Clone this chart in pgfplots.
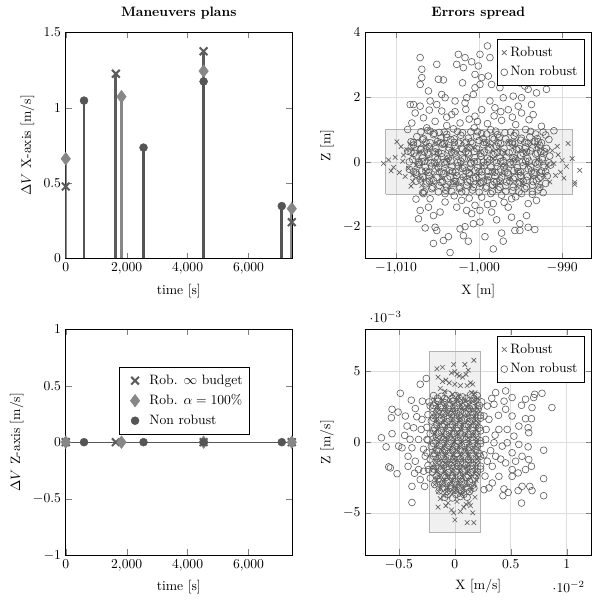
\documentclass[border=0pt]{standalone}
\usepackage{pgfplots}
\pgfplotsset{compat=1.18}
\usepgfplotslibrary{groupplots}
\definecolor{crossc}{RGB}{92,92,92}
\definecolor{diamc}{RGB}{135,135,135}
\definecolor{circc}{RGB}{85,85,85}
\definecolor{scat}{RGB}{92,92,92}
\begin{document}
\begin{tikzpicture}
\begin{groupplot}[group style={group size=2 by 2, horizontal sep=54pt, vertical sep=52pt},
  width=166pt, height=166pt, scale only axis, legend cell align=left,
  legend style={row sep=2pt, inner ysep=3.5pt}]

%%%%%%%%%%%% top left
\nextgroupplot[title={\textbf{Maneuvers plans}}, xlabel={time [s]}, ylabel={$\Delta V$ X-axis [m/s]},
  xmin=0, xmax=7420, ymin=0, ymax=1.5, ytick={0,0.5,1,1.5}, xtick={0,2000,4000,6000}]
\addplot[ycomb, crossc, line width=2pt, mark=x, mark size=4pt, mark options={line width=1.5pt}]
  coordinates {(0,0.477) (1645,1.225) (4526,1.374) (7420,0.24)};
\addplot[ycomb, diamc, line width=2pt, mark=diamond*, mark size=4.6pt, mark options={line width=0.4pt}]
  coordinates {(0,0.661) (1830,1.073) (4526,1.243) (7420,0.33)};
\addplot[ycomb, circc, line width=2pt, mark=*, mark size=2.9pt, mark options={line width=0.4pt}]
  coordinates {(600,1.047) (2553,0.735) (4526,1.174) (7092,0.347)};

%%%%%%%%%%%% top right
\nextgroupplot[title={\textbf{Errors spread}}, xlabel={X [m]}, ylabel={Z [m]},
  xmin=-1013.7, xmax=-986.5, ymin=-2.98, ymax=4, xtick={-1010,-1000,-990}, ytick={-2,0,2,4},
  grid=major, grid style={black!13}, legend pos=north east]
\addplot[draw=black!30, fill=black, fill opacity=0.06, forget plot]
  coordinates {(-1011.25,-1) (-988.75,-1) (-988.75,1) (-1011.25,1) (-1011.25,-1)};
\addplot[only marks, mark=x, mark size=2.4pt, scat, mark options={line width=0.45pt}] coordinates {
(-1011.5,-0.05) (-1010.9,0.06) (-1010.6,-0.28) (-1010.1,0.14) (-1009.9,0.62) (-1009.4,0.47) (-1009.6,-0.33) (-1010.3,-0.17) (-1009.1,0.21) (-1008.9,-0.45) (-1009.2,0.02) (-1008.7,0.38) (-1008.5,-0.2) (-1008.3,0.55) (-1008.0,-0.6)
(-989.3,0.57) (-988.8,0.1) (-987.9,-0.26) (-988.5,-0.63) (-988.5,-0.70) (-989.5,-0.14) (-989.8,-0.50) (-990.2,-0.32) (-990.5,0.22) (-991.0,-0.05) (-990.8,-0.42) (-991.2,0.35) (-990.6,0.48) (-991.5,-0.62) (-990.0,0.05)
(-1006.5,0.5) (-1004.0,0.52) (-1001.3,0.48) (-998.5,0.51) (-995.8,0.49) (-993.1,0.5)
(-1007.3,0.3) (-1005.1,0.31) (-1002.6,0.28) (-999.9,0.32) (-997.0,0.29) (-994.4,0.3) (-992.0,0.31)
(-1006.2,0.1) (-1003.7,0.12) (-1001.1,0.09) (-998.3,0.1) (-995.6,0.11) (-993.0,0.08)
(-1007.6,-0.1) (-1005.0,-0.09) (-1002.3,-0.12) (-999.6,-0.1) (-996.9,-0.11) (-994.2,-0.08) (-991.8,-0.1)
(-1006.4,-0.3) (-1003.8,-0.31) (-1001.0,-0.28) (-998.2,-0.3) (-995.5,-0.32) (-992.9,-0.29)
(-1007.0,-0.5) (-1004.5,-0.51) (-1001.8,-0.49) (-999.0,-0.5) (-996.3,-0.52) (-993.7,-0.48)
(-1005.6,-0.65) (-1002.9,-0.66) (-1000.2,-0.64) (-997.5,-0.65) (-994.8,-0.66)
(-1005.2,0.6) (-1002.0,0.62) (-999.0,0.58) (-996.5,0.61) (-993.8,0.6)
(-1008.2,-0.75) (-1006.9,-0.73) (-1003.6,-0.76) (-1000.9,-0.74) (-998.1,-0.77) (-995.5,-0.74) (-992.6,-0.75)
(-1008.0,0.4) (-1006.0,0.41) (-1003.2,0.39) (-1000.5,0.42) (-997.7,0.4) (-995.0,0.38) (-992.6,0.41)
(-1008.0,-0.4) (-1005.6,-0.41) (-1002.9,-0.39) (-1000.2,-0.42) (-997.4,-0.4) (-994.8,-0.38) (-992.2,-0.41)
};
\addlegendentry{Robust}
\addplot[only marks, mark=o, mark size=2.5pt, scat, mark options={line width=0.45pt}] coordinates {
(-999.0,3.58) (-1007.1,3.22) (-1002.5,3.32) (-1001.7,3.22) (-999.9,3.32) (-998.7,3.22) (-1005.1,3.01) (-1002.7,3.01) (-1000.9,3.09) (-1006.9,2.86) (-1001.9,2.91) (-1000.1,2.96) (-1006.9,2.6) (-1004.9,2.55) (-1004.3,2.53) (-1007.1,2.39) (-1002.0,2.44) (-1000.5,2.7) (-999.7,2.6) (-999.9,2.39) (-998.9,2.65) (-998.5,2.39) (-997.5,2.29) (-996.9,2.5) (-996.1,2.65) (-995.1,2.44) (-994.5,2.34) (-994.1,2.24) (-993.1,2.13) (-991.9,2.24) (-995.9,2.03) (-1000.5,2.29) (-1000.7,2.08) (-1006.1,2.19) (-1004.5,2.08) (-1004.1,1.98) (-1002.9,1.88) (-1001.7,1.82) (-1001.5,1.98) (-998.7,1.88) (-997.1,1.98) (-994.9,1.98) (-1008.3,1.77) (-1007.9,1.77) (-1007.1,1.72) (-1005.9,1.88) (-1005.1,1.77) (-1007.7,1.51) (-1006.7,1.36) (-1004.5,1.57) (-1003.3,1.46) (-999.7,1.61) (-998.1,1.67) (-996.5,1.61) (-994.9,1.51) (-993.7,1.77) (-993.5,1.46) (-1000.5,1.41) (-1008.1,1.2) (-1002.3,1.2)
(-1005.3,1.25) (-1003.9,1.12) (-1001.2,1.32) (-999.0,1.18) (-997.3,1.28) (-995.6,1.15) (-994.0,1.3) (-992.5,1.1) (-1006.3,1.05) (-998.2,1.42) (-996.0,1.38)
(-1002.9,1.55) (-1001.6,1.62) (-1000.2,1.25) (-997.4,1.55) (-995.3,1.72) (-1003.9,1.38) (-1006.0,1.6) (-1008.6,1.0) (-1000.6,1.05)
(-1003.0,-1.05) (-1001.2,-1.12) (-998.6,-0.98) (-995.6,-1.08) (-993.6,-1.0) (-1007.6,-1.15) (-1002.7,-1.4) (-1006.8,-0.95) (-992.3,-0.95) (-999.0,-1.32) (-997.0,-1.25)
(-1003.5,-2.8) (-998.3,-2.69) (-1005.5,-2.52) (-1004.3,-2.43) (-1003.7,-2.31) (-1001.3,-2.45) (-1001.9,-2.28) (-999.3,-2.31) (-997.1,-2.45) (-997.3,-2.2) (-995.7,-2.12) (-995.1,-2.12) (-993.3,-2.09) (-1006.5,-2.04) (-1005.3,-2.02) (-1005.1,-2.12) (-1002.3,-2.07) (-1001.7,-2.0) (-1000.7,-1.91) (-999.9,-1.86) (-994.1,-2.02) (-1007.3,-1.76) (-1005.5,-1.66) (-1004.7,-1.55) (-1001.5,-1.5) (-1000.9,-1.6) (-999.9,-1.5) (-998.5,-1.55) (-997.9,-1.79) (-996.1,-1.71) (-995.1,-1.91) (-994.3,-1.66) (-1007.1,-1.5) (-1006.1,-1.4) (-1004.1,-1.24) (-1002.1,-1.19) (-1000.5,-1.34) (-998.3,-1.29) (-996.5,-1.4) (-994.1,-1.29) (-993.1,-1.19) (-1005.9,-1.14) (-999.7,-1.09) (-997.3,-1.03) (-996.1,-1.14) (-994.9,-0.98) (-1006.7,-0.98) (-1004.1,-0.98) (-1002.1,-0.93)
(-1006.2,0.97) (-1004.8,0.91) (-1003.1,1.02) (-1001.0,0.93) (-998.6,0.99) (-996.9,0.90) (-994.4,1.00) (-992.3,0.92) (-991.0,0.96)
(-1007.5,0.78) (-1005.5,0.84) (-1003.9,0.76) (-1002.2,0.82) (-1000.3,0.79) (-999.1,0.86) (-997.6,0.75) (-995.8,0.81) (-993.9,0.77) (-992.0,0.83)
(-1008.2,0.62) (-1006.8,0.68) (-1005.0,0.63) (-1003.4,0.69) (-1001.6,0.61) (-1000.0,0.66) (-998.2,0.70) (-996.4,0.60) (-995.0,0.67) (-993.3,0.63) (-991.6,0.69)
(-1007.9,0.52) (-1006.0,0.47) (-1004.4,0.54) (-1002.9,0.49) (-1001.2,0.45) (-999.5,0.53) (-997.9,0.48) (-996.0,0.55) (-994.4,0.46) (-992.7,0.51)
(-1008.6,0.33) (-1007.0,0.38) (-1005.3,0.31) (-1003.7,0.36) (-1002.0,0.39) (-1000.6,0.32) (-998.9,0.37) (-997.2,0.30) (-995.5,0.38) (-993.8,0.34) (-992.1,0.31)
(-1007.6,0.18) (-1006.1,0.23) (-1004.5,0.16) (-1002.8,0.21) (-1001.3,0.24) (-999.8,0.17) (-998.3,0.22) (-996.7,0.15) (-995.0,0.20) (-993.2,0.24) (-991.5,0.18)
(-1008.0,0.07) (-1006.6,0.02) (-1005.0,0.08) (-1003.4,0.03) (-1001.8,0.09) (-1000.2,0.01) (-998.7,0.06) (-997.1,0.04) (-995.6,0.09) (-994.0,0.02) (-992.4,0.07)
(-1007.3,-0.08) (-1005.7,-0.13) (-1004.1,-0.07) (-1002.5,-0.12) (-1001.0,-0.06) (-999.4,-0.11) (-997.8,-0.14) (-996.2,-0.08) (-994.7,-0.12) (-993.0,-0.07) (-991.4,-0.10)
(-1008.4,-0.23) (-1006.9,-0.28) (-1005.3,-0.22) (-1003.6,-0.27) (-1002.0,-0.21) (-1000.5,-0.26) (-998.9,-0.29) (-997.4,-0.23) (-995.8,-0.27) (-994.1,-0.22) (-992.5,-0.28)
(-1007.6,-0.38) (-1006.0,-0.43) (-1004.3,-0.37) (-1002.7,-0.42) (-1001.2,-0.36) (-999.7,-0.41) (-998.1,-0.44) (-996.5,-0.38) (-995.0,-0.42) (-993.4,-0.37) (-991.8,-0.43)
(-1007.1,-0.53) (-1005.5,-0.58) (-1003.8,-0.52) (-1002.2,-0.57) (-1000.7,-0.51) (-999.0,-0.56) (-997.5,-0.59) (-995.9,-0.53) (-994.3,-0.57) (-992.8,-0.52)
(-1006.4,-0.68) (-1004.8,-0.73) (-1003.1,-0.67) (-1001.5,-0.72) (-999.9,-0.66) (-998.4,-0.71) (-996.8,-0.74) (-995.2,-0.68) (-993.6,-0.72) (-992.0,-0.67)
(-1005.7,-0.83) (-1004.0,-0.88) (-1002.4,-0.82) (-1000.8,-0.87) (-999.2,-0.81) (-997.7,-0.86) (-996.0,-0.89) (-994.5,-0.83) (-992.9,-0.87)
(-1005.4,0.88) (-1003.9,0.85) (-1002.0,0.90) (-999.7,0.87) (-997.8,0.84) (-995.6,0.89) (-993.2,0.86)
(-1006.7,0.72) (-1004.6,0.74) (-1003.0,0.71) (-1001.3,0.73) (-999.5,0.72) (-998.4,0.74) (-996.8,0.71) (-994.9,0.73) (-993.0,0.72)
(-1007.4,0.57) (-1005.9,0.59) (-1004.2,0.56) (-1002.5,0.58) (-1000.8,0.57) (-999.1,0.59) (-997.4,0.56) (-995.7,0.58) (-994.1,0.57) (-992.5,0.59)
(-1007.0,0.42) (-1005.2,0.41) (-1003.6,0.43) (-1002.1,0.42) (-1000.3,0.41) (-998.7,0.43) (-997.0,0.42) (-995.2,0.41) (-993.6,0.43) (-991.9,0.42)
(-1007.8,0.27) (-1006.2,0.28) (-1004.5,0.26) (-1002.9,0.27) (-1001.3,0.28) (-999.8,0.26) (-998.1,0.27) (-996.4,0.28) (-994.7,0.26) (-993.0,0.27)
(-1006.8,0.12) (-1005.3,0.13) (-1003.7,0.11) (-1002.0,0.12) (-1000.5,0.13) (-999.0,0.11) (-997.5,0.12) (-995.8,0.13) (-994.2,0.11) (-992.4,0.12)
(-1007.2,-0.02) (-1005.8,-0.03) (-1004.2,-0.01) (-1002.6,-0.02) (-1001.0,-0.03) (-999.5,-0.01) (-997.9,-0.02) (-996.3,-0.03) (-994.8,-0.01) (-993.2,-0.02) (-991.6,-0.03)
(-1006.5,-0.17) (-1004.9,-0.18) (-1003.3,-0.16) (-1001.8,-0.17) (-1000.2,-0.18) (-998.6,-0.16) (-997.0,-0.17) (-995.4,-0.18) (-993.8,-0.16) (-992.2,-0.17)
(-1007.6,-0.32) (-1006.1,-0.33) (-1004.5,-0.31) (-1002.8,-0.32) (-1001.2,-0.33) (-999.7,-0.31) (-998.1,-0.32) (-996.6,-0.33) (-995.0,-0.31) (-993.3,-0.32)
(-1006.8,-0.47) (-1005.1,-0.48) (-1003.5,-0.46) (-1001.9,-0.47) (-1000.4,-0.48) (-998.9,-0.46) (-997.3,-0.47) (-995.7,-0.48) (-994.2,-0.46) (-992.6,-0.47)
(-1006.3,-0.62) (-1004.6,-0.63) (-1003.0,-0.61) (-1001.4,-0.62) (-999.8,-0.63) (-998.2,-0.61) (-996.7,-0.62) (-995.1,-0.63) (-993.5,-0.61)
(-1005.6,-0.78) (-1003.9,-0.77) (-1002.3,-0.79) (-1000.7,-0.78) (-999.1,-0.77) (-997.5,-0.79) (-995.9,-0.78) (-994.3,-0.77) (-992.7,-0.79)
(-1007.0,0.93) (-1005.9,0.95) (-1004.2,0.92) (-1002.6,0.94) (-1000.2,0.93) (-998.0,0.95) (-996.2,0.92) (-993.8,0.94)
(-1007.9,0.6) (-1006.4,0.61) (-1004.6,0.59) (-1003.0,0.6) (-1001.0,0.62) (-999.4,0.6) (-997.7,0.59) (-996.0,0.61) (-994.5,0.6) (-992.9,0.62)
(-1008.2,0.3) (-1006.6,0.31) (-1004.9,0.29) (-1003.3,0.3) (-1001.6,0.32) (-999.4,0.3) (-997.8,0.29) (-996.0,0.31) (-994.3,0.3) (-992.6,0.32)
(-1008.4,0.0) (-1006.9,0.01) (-1005.4,-0.01) (-1003.9,0.0) (-1002.2,0.02) (-1000.6,0.0) (-999.0,-0.01) (-997.4,0.01) (-995.9,0.0) (-994.4,0.02) (-992.8,0.0)
(-1007.9,-0.3) (-1006.4,-0.29) (-1004.8,-0.31) (-1003.2,-0.3) (-1001.6,-0.28) (-1000.0,-0.3) (-998.4,-0.31) (-996.9,-0.29) (-995.3,-0.3) (-993.7,-0.28) (-992.0,-0.3)
(-1007.6,-0.6) (-1006.0,-0.59) (-1004.4,-0.61) (-1002.8,-0.6) (-1001.1,-0.58) (-999.5,-0.6) (-997.9,-0.61) (-996.3,-0.59) (-994.7,-0.6) (-993.1,-0.58)
(-1006.6,-0.92) (-1004.9,-0.93) (-1003.3,-0.91) (-1001.6,-0.92) (-1000.0,-0.94) (-998.4,-0.92) (-996.8,-0.91) (-995.2,-0.93) (-993.6,-0.92)
};
\addlegendentry{Non robust}

%%%%%%%%%%%% bottom left
\nextgroupplot[xlabel={time [s]}, ylabel={$\Delta V$ Z-axis [m/s]},
  xmin=0, xmax=7420, ymin=-1, ymax=1, ytick={-1,-0.5,0,0.5,1}, xtick={0,2000,4000,6000},
  legend style={at={(0.236,0.832)}, anchor=north west},
  legend image code/.code={\path[draw=none, fill=none] (0cm,0cm) -- (0.6cm,0cm); \draw plot coordinates {(0.3cm,0cm)};}]
\addplot[circc, line width=0.8pt, forget plot] coordinates {(0,0) (7420,0)};
\addplot[only marks, crossc, mark=x, mark size=4pt, mark options={line width=1.5pt}]
  coordinates {(0,0) (1645,0) (4526,0) (7420,0)};
\addlegendentry{Rob. $\infty$ budget}
\addplot[only marks, diamc, mark=diamond*, mark size=4.6pt, mark options={line width=0.4pt}]
  coordinates {(0,0) (1830,0) (4526,0) (7420,0)};
\addlegendentry{Rob. $\alpha = 100\%$}
\addplot[only marks, circc, mark=*, mark size=2.9pt, mark options={line width=0.4pt}]
  coordinates {(600,0) (2553,0) (4526,0) (7092,0)};
\addlegendentry{Non robust}

%%%%%%%%%%%% bottom right
\nextgroupplot[xlabel={X [m/s]}, ylabel={Z [m/s]},
  xmin=-0.008, xmax=0.0122, ymin=-0.008, ymax=0.008, xtick={-0.005,0,0.005,0.01}, ytick={-0.005,0,0.005},
  grid=major, grid style={black!13}, legend pos=north east]
\addplot[draw=black!30, fill=black, fill opacity=0.06, forget plot]
  coordinates {(-2.3e-3,-6.4e-3) (2.3e-3,-6.4e-3) (2.3e-3,6.4e-3) (-2.3e-3,6.4e-3) (-2.3e-3,-6.4e-3)};
\addplot[only marks, mark=x, mark size=2.4pt, scat, mark options={line width=0.45pt}] coordinates {
(-1.6e-3,5.2e-3) (-1.1e-3,5.3e-3) (-0.1e-3,5.5e-3) (0.9e-3,5.5e-3) (1.7e-3,5.8e-3) (-1.5e-3,4.6e-3) (-1.1e-3,4.3e-3) (-0.8e-3,4.4e-3) (-0.3e-3,4.9e-3) (0.0e-3,5.0e-3) (0.2e-3,4.8e-3) (0.4e-3,4.7e-3) (0.7e-3,4.6e-3) (1.0e-3,4.8e-3) (1.2e-3,5.1e-3) (1.4e-3,4.2e-3) (1.6e-3,4.1e-3) (1.1e-3,4.0e-3) (0.5e-3,4.0e-3) (0.0e-3,4.1e-3) (-0.5e-3,4.2e-3) (-1.3e-3,3.8e-3) (-0.9e-3,3.6e-3) (1.8e-3,3.5e-3) (1.5e-3,3.5e-3) (2.0e-3,3.1e-3) (0.3e-3,3.3e-3) (-0.2e-3,3.4e-3)
(-1.5e-3,-4.6e-3) (-0.8e-3,-4.5e-3) (1.0e-3,-4.4e-3) (1.3e-3,-4.3e-3) (-0.3e-3,-4.8e-3) (0.0e-3,-5.5e-3) (1.1e-3,-5.7e-3) (1.7e-3,-5.7e-3) (1.6e-3,-5.0e-3) (0.5e-3,-4.9e-3) (-1.3e-3,-4.0e-3) (-0.1e-3,-5.0e-3) (0.8e-3,-4.6e-3) (1.4e-3,-4.5e-3) (0.2e-3,-4.2e-3) (-0.6e-3,-4.3e-3) (-1.0e-3,-3.8e-3) (1.8e-3,-3.9e-3) (0.6e-3,-3.7e-3)
(-1.8e-3,3.0e-3) (-1.1e-3,3.0e-3) (-0.4e-3,3.0e-3) (0.3e-3,3.0e-3) (1.0e-3,3.0e-3) (1.7e-3,3.0e-3)
(-1.45e-3,2.4e-3) (-0.75e-3,2.4e-3) (-0.05e-3,2.4e-3) (0.65e-3,2.4e-3) (1.35e-3,2.4e-3) (2.0e-3,2.4e-3)
(-1.8e-3,1.8e-3) (-1.1e-3,1.8e-3) (-0.4e-3,1.8e-3) (0.3e-3,1.8e-3) (1.0e-3,1.8e-3) (1.7e-3,1.8e-3)
(-1.45e-3,1.2e-3) (-0.75e-3,1.2e-3) (-0.05e-3,1.2e-3) (0.65e-3,1.2e-3) (1.35e-3,1.2e-3) (2.0e-3,1.2e-3)
(-1.8e-3,0.6e-3) (-1.1e-3,0.6e-3) (-0.4e-3,0.6e-3) (0.3e-3,0.6e-3) (1.0e-3,0.6e-3) (1.7e-3,0.6e-3)
(-1.45e-3,0.0e-3) (-0.75e-3,0.0e-3) (-0.05e-3,0.0e-3) (0.65e-3,0.0e-3) (1.35e-3,0.0e-3) (2.0e-3,0.0e-3)
(-1.8e-3,-0.6e-3) (-1.1e-3,-0.6e-3) (-0.4e-3,-0.6e-3) (0.3e-3,-0.6e-3) (1.0e-3,-0.6e-3) (1.7e-3,-0.6e-3)
(-1.45e-3,-1.2e-3) (-0.75e-3,-1.2e-3) (-0.05e-3,-1.2e-3) (0.65e-3,-1.2e-3) (1.35e-3,-1.2e-3) (2.0e-3,-1.2e-3)
(-1.8e-3,-1.8e-3) (-1.1e-3,-1.8e-3) (-0.4e-3,-1.8e-3) (0.3e-3,-1.8e-3) (1.0e-3,-1.8e-3) (1.7e-3,-1.8e-3)
(-1.45e-3,-2.4e-3) (-0.75e-3,-2.4e-3) (-0.05e-3,-2.4e-3) (0.65e-3,-2.4e-3) (1.35e-3,-2.4e-3) (2.0e-3,-2.4e-3)
(-1.8e-3,-3.0e-3) (-1.1e-3,-3.0e-3) (-0.4e-3,-3.0e-3) (0.3e-3,-3.0e-3) (1.0e-3,-3.0e-3) (1.7e-3,-3.0e-3)
(-1.45e-3,-3.5e-3) (-0.75e-3,-3.5e-3) (-0.05e-3,-3.5e-3) (0.65e-3,-3.5e-3) (1.35e-3,-3.5e-3)
(-1.6e-3,2.7e-3) (-0.9e-3,2.7e-3) (-0.2e-3,2.7e-3) (0.5e-3,2.7e-3) (1.2e-3,2.7e-3) (1.9e-3,2.7e-3)
(-1.6e-3,2.1e-3) (-0.9e-3,2.1e-3) (-0.2e-3,2.1e-3) (0.5e-3,2.1e-3) (1.2e-3,2.1e-3) (1.9e-3,2.1e-3)
(-1.6e-3,1.5e-3) (-0.9e-3,1.5e-3) (-0.2e-3,1.5e-3) (0.5e-3,1.5e-3) (1.2e-3,1.5e-3) (1.9e-3,1.5e-3)
(-1.6e-3,0.9e-3) (-0.9e-3,0.9e-3) (-0.2e-3,0.9e-3) (0.5e-3,0.9e-3) (1.2e-3,0.9e-3) (1.9e-3,0.9e-3)
(-1.6e-3,0.3e-3) (-0.9e-3,0.3e-3) (-0.2e-3,0.3e-3) (0.5e-3,0.3e-3) (1.2e-3,0.3e-3) (1.9e-3,0.3e-3)
(-1.6e-3,-0.3e-3) (-0.9e-3,-0.3e-3) (-0.2e-3,-0.3e-3) (0.5e-3,-0.3e-3) (1.2e-3,-0.3e-3) (1.9e-3,-0.3e-3)
(-1.6e-3,-0.9e-3) (-0.9e-3,-0.9e-3) (-0.2e-3,-0.9e-3) (0.5e-3,-0.9e-3) (1.2e-3,-0.9e-3) (1.9e-3,-0.9e-3)
(-1.6e-3,-1.5e-3) (-0.9e-3,-1.5e-3) (-0.2e-3,-1.5e-3) (0.5e-3,-1.5e-3) (1.2e-3,-1.5e-3) (1.9e-3,-1.5e-3)
(-1.6e-3,-2.1e-3) (-0.9e-3,-2.1e-3) (-0.2e-3,-2.1e-3) (0.5e-3,-2.1e-3) (1.2e-3,-2.1e-3) (1.9e-3,-2.1e-3)
(-1.6e-3,-2.7e-3) (-0.9e-3,-2.7e-3) (-0.2e-3,-2.7e-3) (0.5e-3,-2.7e-3) (1.2e-3,-2.7e-3) (1.9e-3,-2.7e-3)
(-1.3e-3,-3.25e-3) (-0.6e-3,-3.25e-3) (0.1e-3,-3.25e-3) (0.8e-3,-3.25e-3) (1.5e-3,-3.25e-3)
};
\addlegendentry{Robust}
\addplot[only marks, mark=o, mark size=2.5pt, scat, mark options={line width=0.45pt}] coordinates {
(-3.83e-3,-4.27e-3) (-6.56e-3,0.31e-3) (-6.14e-3,-0.33e-3) (-5.61e-3,2.33e-3) (-5.67e-3,1.73e-3) (-5.07e-3,2.13e-3) (-4.87e-3,3.46e-3) (-3.89e-3,2.97e-3) (-3.09e-3,4.10e-3) (-2.55e-3,4.51e-3) (-5.91e-3,-1.75e-3) (-5.16e-3,-2.23e-3) (-5.61e-3,0.60e-3) (-4.48e-3,0.48e-3) (-5.02e-3,-0.28e-3) (-4.18e-3,-1.00e-3) (-3.83e-3,-3.13e-3) (-2.70e-3,-3.13e-3) (-3.68e-3,1.02e-3) (-4.42e-3,1.85e-3) (-3.53e-3,2.38e-3) (-4.27e-3,1.14e-3) (-4.72e-3,-0.40e-3) (-3.53e-3,-1.35e-3) (-3.24e-3,-1.94e-3) (-2.79e-3,-2.06e-3) (-3.09e-3,-2.65e-3) (-2.35e-3,-1.94e-3) (-2.64e-3,-1.00e-3) (-2.49e-3,0.19e-3) (-3.24e-3,0.19e-3) (-2.94e-3,1.61e-3) (-2.20e-3,2.56e-3) (-3.83e-3,-0.40e-3) (-4.18e-3,-1.71e-3) (-5.76e-3,-1.82e-3)
(-3.0e-3,0.9e-3) (-2.8e-3,-0.5e-3) (-3.4e-3,1.8e-3) (-3.6e-3,-2.2e-3) (-2.9e-3,2.9e-3) (-4.0e-3,0.2e-3) (2.8e-3,0.9e-3) (3.2e-3,-0.6e-3) (3.9e-3,1.9e-3) (4.1e-3,-1.2e-3) (2.7e-3,-2.4e-3) (4.4e-3,2.9e-3) (3.3e-3,3.1e-3) (2.6e-3,-0.9e-3) (3.6e-3,0.5e-3)
(8.68e-3,2.45e-3) (7.79e-3,3.46e-3) (7.14e-3,3.39e-3) (6.90e-3,2.45e-3) (7.05e-3,3.16e-3) (7.94e-3,-0.57e-3) (7.94e-3,-2.58e-3) (7.94e-3,-3.79e-3) (5.96e-3,-4.31e-3) (6.90e-3,-3.43e-3) (6.70e-3,-3.13e-3) (6.01e-3,-3.13e-3) (5.66e-3,-3.43e-3) (4.54e-3,3.63e-3) (5.12e-3,3.16e-3) (5.96e-3,2.61e-3) (6.32e-3,3.04e-3) (6.32e-3,1.66e-3) (6.85e-3,1.66e-3) (6.55e-3,1.02e-3) (6.61e-3,0.67e-3) (6.55e-3,-0.33e-3) (6.61e-3,-1.23e-3) (6.85e-3,-1.71e-3) (6.32e-3,-1.94e-3) (5.66e-3,-2.18e-3) (5.12e-3,-2.42e-3) (4.39e-3,-3.31e-3) (4.30e-3,-3.79e-3) (4.77e-3,-3.56e-3) (3.65e-3,3.51e-3) (3.50e-3,2.68e-3) (4.54e-3,2.33e-3) (5.12e-3,1.85e-3) (5.72e-3,1.14e-3) (5.28e-3,0.43e-3) (5.72e-3,-0.16e-3) (5.12e-3,-0.75e-3) (6.01e-3,-1.00e-3) (4.54e-3,-1.47e-3) (5.12e-3,-1.94e-3) (3.94e-3,-2.42e-3) (3.35e-3,-2.89e-3) (3.05e-3,-3.24e-3) (2.61e-3,-3.36e-3) (3.05e-3,1.61e-3) (3.94e-3,0.90e-3) (4.24e-3,-0.28e-3) (3.65e-3,-1.00e-3) (3.35e-3,-1.71e-3) (2.90e-3,-1.35e-3) (2.76e-3,0.19e-3) (2.61e-3,1.85e-3) (2.90e-3,2.56e-3) (3.50e-3,-0.04e-3) (4.68e-3,0.90e-3) (4.68e-3,-0.04e-3) (5.43e-3,-1.35e-3)
(-1.9e-3,3.3e-3) (-1.2e-3,3.25e-3) (-0.6e-3,3.4e-3) (0.1e-3,3.3e-3) (0.7e-3,3.2e-3) (1.4e-3,3.35e-3) (2.0e-3,3.3e-3)
(-2.3e-3,2.85e-3) (-1.5e-3,2.9e-3) (-0.9e-3,2.8e-3) (-0.2e-3,2.9e-3) (0.4e-3,2.85e-3) (1.1e-3,2.75e-3) (1.7e-3,2.9e-3) (2.4e-3,2.85e-3)
(-2.0e-3,2.4e-3) (-1.3e-3,2.45e-3) (-0.6e-3,2.35e-3) (0.0e-3,2.4e-3) (0.7e-3,2.5e-3) (1.3e-3,2.4e-3) (2.1e-3,2.35e-3)
(-2.4e-3,1.95e-3) (-1.7e-3,1.9e-3) (-1.0e-3,2.0e-3) (-0.3e-3,1.95e-3) (0.4e-3,1.9e-3) (1.0e-3,2.0e-3) (1.6e-3,1.95e-3) (2.3e-3,1.9e-3)
(-2.1e-3,1.5e-3) (-1.4e-3,1.55e-3) (-0.7e-3,1.45e-3) (0.0e-3,1.5e-3) (0.6e-3,1.55e-3) (1.3e-3,1.45e-3) (1.9e-3,1.5e-3)
(-2.5e-3,1.05e-3) (-1.8e-3,1.0e-3) (-1.1e-3,1.1e-3) (-0.4e-3,1.05e-3) (0.3e-3,1.0e-3) (0.9e-3,1.1e-3) (1.6e-3,1.05e-3) (2.2e-3,1.0e-3)
(-2.2e-3,0.6e-3) (-1.5e-3,0.65e-3) (-0.8e-3,0.55e-3) (-0.1e-3,0.6e-3) (0.5e-3,0.65e-3) (1.2e-3,0.55e-3) (1.9e-3,0.6e-3)
(-2.4e-3,0.15e-3) (-1.7e-3,0.1e-3) (-1.0e-3,0.2e-3) (-0.3e-3,0.15e-3) (0.3e-3,0.1e-3) (1.0e-3,0.2e-3) (1.6e-3,0.15e-3) (2.3e-3,0.1e-3)
(-2.1e-3,-0.3e-3) (-1.4e-3,-0.25e-3) (-0.7e-3,-0.35e-3) (0.0e-3,-0.3e-3) (0.6e-3,-0.25e-3) (1.3e-3,-0.35e-3) (2.0e-3,-0.3e-3)
(-2.5e-3,-0.75e-3) (-1.8e-3,-0.8e-3) (-1.1e-3,-0.7e-3) (-0.4e-3,-0.75e-3) (0.2e-3,-0.8e-3) (0.9e-3,-0.7e-3) (1.5e-3,-0.75e-3) (2.2e-3,-0.8e-3)
(-2.2e-3,-1.2e-3) (-1.5e-3,-1.15e-3) (-0.8e-3,-1.25e-3) (-0.1e-3,-1.2e-3) (0.5e-3,-1.15e-3) (1.2e-3,-1.25e-3) (1.9e-3,-1.2e-3)
(-2.4e-3,-1.65e-3) (-1.7e-3,-1.7e-3) (-1.0e-3,-1.6e-3) (-0.3e-3,-1.65e-3) (0.3e-3,-1.7e-3) (1.0e-3,-1.6e-3) (1.6e-3,-1.65e-3) (2.3e-3,-1.7e-3)
(-2.0e-3,-2.1e-3) (-1.3e-3,-2.05e-3) (-0.6e-3,-2.15e-3) (0.1e-3,-2.1e-3) (0.7e-3,-2.05e-3) (1.4e-3,-2.15e-3) (2.0e-3,-2.1e-3)
(-2.2e-3,-2.55e-3) (-1.5e-3,-2.6e-3) (-0.8e-3,-2.5e-3) (-0.2e-3,-2.55e-3) (0.5e-3,-2.6e-3) (1.1e-3,-2.5e-3) (1.8e-3,-2.55e-3)
(-1.8e-3,-3.0e-3) (-1.1e-3,-2.95e-3) (-0.4e-3,-3.05e-3) (0.2e-3,-3.0e-3) (0.9e-3,-2.95e-3) (1.6e-3,-3.05e-3)
(-1.4e-3,-3.45e-3) (-0.7e-3,-3.5e-3) (0.0e-3,-3.4e-3) (0.6e-3,-3.45e-3) (1.3e-3,-3.5e-3)
(-0.9e-3,-3.9e-3) (-0.2e-3,-3.95e-3) (0.5e-3,-3.85e-3) (1.1e-3,-3.9e-3)
(-1.55e-3,3.1e-3) (-0.9e-3,3.1e-3) (-0.25e-3,3.1e-3) (0.4e-3,3.1e-3) (1.05e-3,3.1e-3) (1.7e-3,3.1e-3)
(-1.9e-3,2.6e-3) (-1.2e-3,2.6e-3) (-0.5e-3,2.6e-3) (0.2e-3,2.6e-3) (0.9e-3,2.6e-3) (1.6e-3,2.6e-3) (2.2e-3,2.6e-3)
(-1.6e-3,2.15e-3) (-0.9e-3,2.15e-3) (-0.2e-3,2.15e-3) (0.5e-3,2.15e-3) (1.2e-3,2.15e-3) (1.9e-3,2.15e-3)
(-1.9e-3,1.7e-3) (-1.2e-3,1.7e-3) (-0.5e-3,1.7e-3) (0.2e-3,1.7e-3) (0.9e-3,1.7e-3) (1.6e-3,1.7e-3) (2.3e-3,1.7e-3)
(-1.6e-3,1.25e-3) (-0.9e-3,1.25e-3) (-0.2e-3,1.25e-3) (0.5e-3,1.25e-3) (1.2e-3,1.25e-3) (1.9e-3,1.25e-3)
(-1.9e-3,0.8e-3) (-1.2e-3,0.8e-3) (-0.5e-3,0.8e-3) (0.2e-3,0.8e-3) (0.9e-3,0.8e-3) (1.6e-3,0.8e-3) (2.3e-3,0.8e-3)
(-1.6e-3,0.35e-3) (-0.9e-3,0.35e-3) (-0.2e-3,0.35e-3) (0.5e-3,0.35e-3) (1.2e-3,0.35e-3) (1.9e-3,0.35e-3)
(-1.9e-3,-0.1e-3) (-1.2e-3,-0.1e-3) (-0.5e-3,-0.1e-3) (0.2e-3,-0.1e-3) (0.9e-3,-0.1e-3) (1.6e-3,-0.1e-3) (2.3e-3,-0.1e-3)
(-1.6e-3,-0.55e-3) (-0.9e-3,-0.55e-3) (-0.2e-3,-0.55e-3) (0.5e-3,-0.55e-3) (1.2e-3,-0.55e-3) (1.9e-3,-0.55e-3)
(-1.9e-3,-1.0e-3) (-1.2e-3,-1.0e-3) (-0.5e-3,-1.0e-3) (0.2e-3,-1.0e-3) (0.9e-3,-1.0e-3) (1.6e-3,-1.0e-3) (2.3e-3,-1.0e-3)
(-1.6e-3,-1.45e-3) (-0.9e-3,-1.45e-3) (-0.2e-3,-1.45e-3) (0.5e-3,-1.45e-3) (1.2e-3,-1.45e-3) (1.9e-3,-1.45e-3)
(-1.9e-3,-1.9e-3) (-1.2e-3,-1.9e-3) (-0.5e-3,-1.9e-3) (0.2e-3,-1.9e-3) (0.9e-3,-1.9e-3) (1.6e-3,-1.9e-3) (2.3e-3,-1.9e-3)
(-1.6e-3,-2.35e-3) (-0.9e-3,-2.35e-3) (-0.2e-3,-2.35e-3) (0.5e-3,-2.35e-3) (1.2e-3,-2.35e-3) (1.9e-3,-2.35e-3)
(-1.4e-3,-2.8e-3) (-0.7e-3,-2.8e-3) (0.0e-3,-2.8e-3) (0.6e-3,-2.8e-3) (1.3e-3,-2.8e-3)
(-1.1e-3,-3.25e-3) (-0.4e-3,-3.25e-3) (0.3e-3,-3.25e-3) (1.0e-3,-3.25e-3) (1.7e-3,-3.25e-3)
(-0.6e-3,-3.7e-3) (0.1e-3,-3.7e-3) (0.8e-3,-3.7e-3)
};
\addlegendentry{Non robust}
\end{groupplot}
\path ([shift={(-4pt,-3pt)}]current bounding box.south west) rectangle ([shift={(0pt,2pt)}]current bounding box.north east);
\end{tikzpicture}
\end{document}
